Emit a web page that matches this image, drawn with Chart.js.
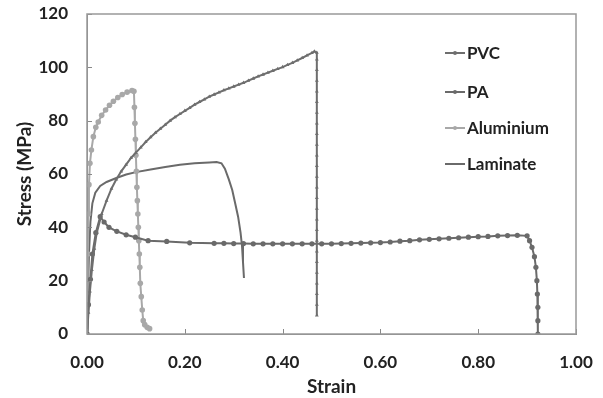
<!DOCTYPE html>
<html>
<head>
<meta charset="utf-8">
<script src="https://cdn.jsdelivr.net/npm/chart.js@4.4.0/dist/chart.umd.min.js"></script>
<style>
html,body{margin:0;padding:0;background:#fff;}
#wrap{width:603px;height:398px;position:relative;}
</style>
</head>
<body>
<div id="wrap"><canvas id="c"></canvas></div>
<script>
// Strain / stress readings (strain, MPa)
const pvcStrain = [0,0.003,0.006,0.01,0.015,0.02,0.03,0.04,0.05,0.06,0.07,0.08,0.09,0.10,0.11,0.12,0.13,0.14,0.15,0.16,0.17,0.18,0.19,0.20,0.21,0.22,0.23,0.24,0.25,0.26,0.27,0.28,0.29,0.30,0.31,0.32,0.33,0.34,0.35,0.36,0.37,0.38,0.39,0.40,0.41,0.42,0.43,0.44,0.45,0.46,0.465,0.47,0.47,0.47,0.47,0.47,0.47,0.47,0.47,0.47,0.47,0.47,0.47,0.47,0.47,0.47,0.47,0.47,0.47,0.47,0.47,0.47,0.47,0.47,0.47,0.47,0.47];
const pvcStress = [0,8,16,24,32,38,45,50,54.5,58,61,63.5,66,68,70,72,73.8,75.5,77,78.5,80,81.3,82.5,83.7,84.8,86,87,88,89,89.8,90.6,91.4,92.1,92.8,93.5,94.2,95,95.8,96.6,97.3,98,98.7,99.4,100.1,100.9,101.7,102.6,103.5,104.5,105.4,106,105.5,103,99,95,91,87,83,79,75,71,67,63,59,55,51,47,43,39,35,31,27,23,19,15,11,7];

const paStrain = [0,0.003,0.007,0.011,0.018,0.027,0.035,0.045,0.061,0.08,0.099,0.125,0.163,0.21,0.26,0.28,0.30,0.32,0.34,0.36,0.38,0.40,0.42,0.44,0.46,0.48,0.50,0.52,0.54,0.56,0.58,0.60,0.62,0.64,0.66,0.68,0.70,0.72,0.74,0.76,0.78,0.80,0.82,0.84,0.86,0.88,0.90,0.905,0.91,0.915,0.918,0.92,0.921,0.922,0.922,0.922];
const paStress = [0,11,20.5,30,38,44,42,40,38.5,37.2,36.3,35,34.7,34.2,34,34,33.9,33.9,33.8,33.8,33.8,33.8,33.8,33.8,33.8,33.8,33.8,33.9,34,34.1,34.2,34.3,34.5,34.8,35,35.3,35.5,35.7,35.9,36.1,36.3,36.5,36.6,36.8,36.9,37,36.8,35,32.5,29,25,20,15,10,5,0];

const alStrain = [0,0.001,0.002,0.003,0.004,0.006,0.009,0.013,0.018,0.023,0.03,0.038,0.046,0.054,0.063,0.072,0.082,0.092,0.096,0.097,0.098,0.099,0.100,0.101,0.102,0.103,0.104,0.105,0.106,0.107,0.108,0.109,0.111,0.113,0.115,0.118,0.123,0.128];
const alStress = [0,15,30,45,56,64,69,74,77.5,79.5,82,84,85.8,87.3,88.7,89.8,90.7,91.3,91,85,79,73,67,61,55,50,45,40,35,30,25,19,14,9,5,3.5,2.5,2];

const lamStrain = [0,0.002,0.004,0.007,0.011,0.017,0.027,0.04,0.06,0.08,0.10,0.13,0.16,0.19,0.22,0.25,0.265,0.275,0.282,0.29,0.297,0.303,0.309,0.314,0.317,0.319,0.321];
const lamStress = [0,15,30,42,49,53,55.5,57,58.5,59.8,60.7,61.7,62.6,63.5,64,64.3,64.5,64,62,58,54,49,44,38,33,27,21];

const xTicks = [0,0.2,0.4,0.6,0.8,1.0];
const yTicks = [0,20,40,60,80,100,120];

function pts(xs, ys){ return xs.map((x,i)=>({x:x, y:ys[i]})); }

const FONT = 'Lato, "Open Sans", sans-serif';

const legendPlugin = {
  id:'insideLegend',
  afterDraw(chart){
    const ctx = chart.ctx;
    const rows = [53,92,128,164];
    ctx.save();
    chart.data.datasets.forEach((ds,i)=>{
      const y = rows[i];
      ctx.strokeStyle = ds.borderColor;
      ctx.lineWidth = 2;
      ctx.beginPath(); ctx.moveTo(445,y); ctx.lineTo(465,y); ctx.stroke();
      if (ds.pointRadius > 0){
        ctx.fillStyle = ds.pointBackgroundColor;
        ctx.beginPath(); ctx.arc(455,y,2,0,Math.PI*2); ctx.fill();
      }
      ctx.fillStyle = '#222';
      ctx.font = 'bold 17px ' + FONT;
      ctx.textBaseline = 'middle';
      ctx.textAlign = 'left';
      ctx.fillText(ds.label, 467, y+1);
    });
    ctx.restore();
  }
};

const innerTicks = {
  id:'innerTicks',
  afterDraw(chart){
    const ctx = chart.ctx, a = chart.chartArea;
    const xs = chart.scales.x, ys = chart.scales.y;
    ctx.save();
    ctx.strokeStyle = '#888'; ctx.lineWidth = 1;
    xTicks.forEach(v=>{ const p = Math.round(xs.getPixelForValue(v))+0.5; ctx.beginPath(); ctx.moveTo(p,a.bottom); ctx.lineTo(p,a.bottom-5); ctx.stroke(); });
    yTicks.forEach(v=>{ const p = Math.round(ys.getPixelForValue(v))+0.5; ctx.beginPath(); ctx.moveTo(a.left,p); ctx.lineTo(a.left+5,p); ctx.stroke(); });
    ctx.restore();
  }
};

new Chart(document.getElementById('c'), {
  type:'scatter',
  data:{
    datasets:[
      {label:'PVC', data:pts(pvcStrain,pvcStress), showLine:true, borderColor:'#6e6e6e', backgroundColor:'#6e6e6e', pointBackgroundColor:'#6e6e6e', pointBorderWidth:0, pointStyle:'triangle', pointRadius:2.2, borderWidth:2, tension:0},
      {label:'PA', data:pts(paStrain,paStress), showLine:true, borderColor:'#6a6a6a', backgroundColor:'#6a6a6a', pointBackgroundColor:'#6a6a6a', pointBorderWidth:0, pointRadius:2.6, borderWidth:2, tension:0},
      {label:'Aluminium', data:pts(alStrain,alStress), showLine:true, borderColor:'#a8a8a8', backgroundColor:'#a8a8a8', pointBackgroundColor:'#a8a8a8', pointBorderWidth:0, pointRadius:2.8, borderWidth:2, tension:0},
      {label:'Laminate', data:pts(lamStrain,lamStress), showLine:true, borderColor:'#6a6a6a', backgroundColor:'#6a6a6a', pointBackgroundColor:'#6a6a6a', pointRadius:0, borderWidth:2, tension:0}
    ]
  },
  options:{
    responsive:true, maintainAspectRatio:false, animation:false,
    layout:{padding:{top:14,right:27,left:0,bottom:0}},
    plugins:{legend:{display:false}, tooltip:{enabled:false}},
    scales:{
      x:{type:'linear', min:0, max:1,
        afterBuildTicks(s){ s.ticks = xTicks.map(v=>({value:v})); },
        afterFit(s){ s.height = 64; s.paddingLeft = 0; s.paddingRight = 0; },
        grid:{display:true, drawOnChartArea:false, drawTicks:false},
        border:{display:true, color:'#888', width:1},
        ticks:{padding:18, color:'#222', font:{family:FONT, size:17, weight:'bold'}, callback:v=>v.toFixed(2)},
        title:{display:true, text:'Strain', color:'#222', font:{family:FONT, size:19, weight:'bold'}, padding:{top:-3,bottom:0}}
      },
      y:{type:'linear', min:0, max:120,
        afterBuildTicks(s){ s.ticks = yTicks.map(v=>({value:v})); },
        afterFit(s){ s.width = 87; s.paddingTop = 0; s.paddingBottom = 0; },
        grid:{display:true, drawOnChartArea:false, drawTicks:false},
        border:{display:true, color:'#888', width:1},
        ticks:{padding:19, color:'#222', font:{family:FONT, size:17, weight:'bold'}},
        title:{display:true, text:'Stress (MPa)', color:'#222', font:{family:FONT, size:19, weight:'bold'}, padding:{top:13,bottom:0}}
      }
    }
  },
  plugins:[legendPlugin, innerTicks, {
    id:'frame',
    afterDraw(chart){
      const a = chart.chartArea, ctx = chart.ctx;
      ctx.save(); ctx.strokeStyle='#999'; ctx.lineWidth=1.5;
      ctx.strokeRect(a.left, a.top, a.right-a.left, a.bottom-a.top);
      ctx.restore();
    }
  }]
});
</script>
</body>
</html>
